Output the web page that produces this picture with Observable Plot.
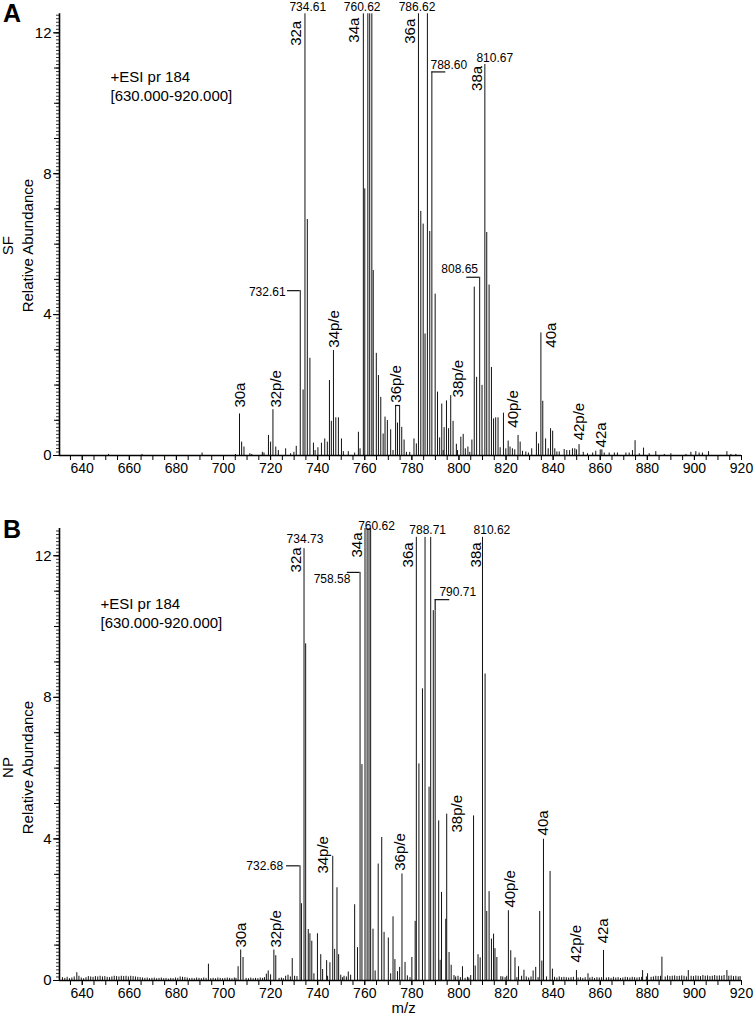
<!DOCTYPE html>
<html><head><meta charset="utf-8">
<script src="https://cdn.jsdelivr.net/npm/d3@7"></script>
<script src="https://cdn.jsdelivr.net/npm/@observablehq/plot@0.6"></script>
<style>
body{margin:0;background:#fff;font-family:"Liberation Sans",Arial,Helvetica,sans-serif;}
#wrap{position:relative;width:754px;height:1021px;overflow:hidden;background:#fff;}
.panel{position:absolute;left:0;}
.plab{position:absolute;left:3px;font-weight:bold;font-size:25px;line-height:25px;color:#000;}
</style></head><body><div id="wrap"></div>
<script>
// ---------- data ----------
const xTickLabels = [640,660,680,700,720,740,760,780,800,820,840,860,880,900,920];
const yTickLabels = [0,4,8,12];
const sampleNames = ["SF","NP"];
const headerText = "+ESI pr 184\n[630.000-920.000]";

// Panel A (SF): [m/z, relative abundance]
const sfPeaks = [
[651.2,0.03],[665.4,0.03],[690.9,0.07],[705.1,0.03],
[706.8,1.18],[707.7,0.38],[708.7,0.24],[711.2,0.05],[712.0,0.03],[716.5,0.09],[717.2,0.07],[719.1,0.57],[720.0,0.38],[721.0,1.30],[722.2,0.24],[723.3,0.14],[726.4,0.19],[728.5,0.05],[729.9,0.09],[730.9,0.26],
[732.6,4.68],[733.8,1.86],[734.6,12.54],[735.6,6.70],[736.7,2.76],[738.2,0.35],[738.9,0.14],[740.1,0.22],[741.6,0.35],[743.0,0.47],[744.1,0.38],[745.0,2.13],[745.8,0.97],[746.7,2.98],[747.7,1.07],[748.8,1.07],[750.1,0.47],[750.9,0.11],[753.0,0.11],[755.7,0.07],[757.3,0.66],[758.0,0.19],
[759.4,12.54],[760.0,7.57],[761.3,12.54],[762.1,12.54],[763.0,12.54],[763.6,5.25],[764.9,2.90],[765.8,2.27],[766.8,1.65],[767.8,0.61],[768.6,1.09],[769.6,0.99],[771.0,0.73],[772.0,0.14],[773.1,1.42],[773.9,0.92],[774.8,1.42],[775.7,0.80],[776.7,0.44],[777.7,0.09],[779.1,0.09],[780.9,0.47],[781.9,0.33],
[782.8,12.54],[783.8,6.93],[784.8,6.57],[785.6,3.45],[786.6,12.54],[787.6,6.36],[788.5,10.89],[789.9,4.58],[790.9,1.80],[791.8,0.50],[792.7,1.46],[793.3,0.14],[793.7,0.79],[794.7,1.55],[795.6,0.76],[796.5,1.70],[797.5,0.97],[798.9,0.32],[799.4,0.14],[800.8,0.52],[801.8,0.60],[802.7,0.19],[803.8,0.24],[804.6,0.09],[805.5,0.44],
[806.5,4.78],[807.5,2.22],[808.8,5.06],[809.8,1.99],[811.0,11.10],[811.8,6.33],[812.8,4.84],[813.8,2.50],[814.7,1.04],[815.6,1.07],[816.6,1.07],[817.5,0.22],[818.9,1.20],[819.9,0.19],[820.9,0.41],[821.7,0.24],[822.7,0.19],[823.7,0.16],[825.1,0.57],[826.0,0.38],[827.0,0.12],[828.4,0.10],[829.5,0.07],[830.9,0.19],[832.9,0.66],[833.8,0.33],
[834.8,3.48],[835.6,1.54],[836.8,0.47],[837.9,0.19],[838.9,0.76],[839.8,0.69],[840.7,0.19],[841.6,0.10],[842.6,0.10],[844.7,0.17],[845.8,0.14],[847.0,0.14],[848.2,0.19],[849.2,0.19],[849.9,0.16],[851.0,0.31],[852.8,0.09],[854.6,0.05],[856.8,0.07],[858.1,0.12],[860.0,0.16],[860.7,0.16],[861.7,0.07],[863.8,0.07],[866.0,0.07],[867.3,0.07],[870.9,0.07],[872.3,0.07],[873.7,0.14],[874.8,0.42],[876.6,0.05],[878.4,0.21],[880.8,0.05],[883.6,0.11],[887.2,0.03],[890.0,0.05],[896.4,0.03],[898.5,0.09],[900.6,0.11],[902.0,0.07],[903.4,0.07],[906.0,0.11],[913.8,0.11],[915.5,0.03],[917.6,0.03]
];
const sfIonLabels = [
{t:"30a",mz:707.3,v:1.36},{t:"32p/e",mz:722.4,v:1.36},{t:"32a",mz:730.9,v:11.63},{t:"34p/e",mz:747.0,v:3.06},{t:"34a",mz:755.3,v:11.72},
{t:"36p/e",mz:773.4,v:1.50},{t:"36a",mz:779.5,v:11.69},{t:"38p/e",mz:799.7,v:1.65},{t:"38a",mz:807.6,v:10.35},{t:"40p/e",mz:823.1,v:0.79},
{t:"40a",mz:839.0,v:3.06},{t:"42p/e",mz:851.0,v:0.43},{t:"42a",mz:860.3,v:0.23}
];
const sfMassLabels = [
{t:"734.61",mz:735.8,v:12.74},{t:"760.62",mz:758.9,v:12.74},{t:"786.62",mz:782.2,v:12.74},{t:"788.60",mz:795.7,v:11.09},
{t:"810.67",mz:815.2,v:11.28},{t:"732.61",mz:718.6,v:4.65},{t:"808.65",mz:800.3,v:5.28}
];
const sfLeaders = [{x1:727.2,x2:732.6,v:4.68},{x1:788.5,x2:794.4,v:10.89},{x1:803.3,x2:808.8,v:5.06},{x1:773.1,x2:774.8,v:1.42}];

// Panel B (NP): [m/z, relative abundance]
const npPeaks = [
[637.7,0.22],[693.6,0.46],[706.2,0.39],[707.3,0.86],[708.3,0.65],[718.2,0.18],[719.0,0.27],[720.0,0.16],[721.4,0.86],[722.2,0.70],[726.4,0.12],[727.4,0.15],[729.2,0.62],[730.2,0.12],
[732.5,3.24],[733.1,2.17],[734.2,12.20],[734.9,9.51],[736.0,1.44],[736.7,1.32],[737.5,1.11],[738.4,0.19],[739.9,1.32],[741.3,0.73],[742.1,0.31],[743.8,0.56],[745.2,0.50],[746.4,3.51],[747.2,0.88],[748.2,2.62],[748.9,0.73],[749.8,0.15],[751.2,0.12],[753.0,0.24],[754.0,0.15],[755.7,2.14],[756.9,0.93],
[758.0,11.53],[758.8,6.10],[760.1,12.77],[761.0,12.77],[761.8,12.77],[762.5,12.77],[763.5,1.45],[764.4,0.27],[765.7,3.29],[767.2,4.04],[768.2,1.36],[770.0,1.20],[771.0,0.19],[772.0,1.80],[772.8,0.59],[773.9,0.25],[774.8,0.37],[775.8,3.01],[777.1,0.51],[778.1,0.13],[780.0,0.65],[781.4,1.67],
[781.9,12.52],[783.0,6.12],[784.5,8.24],[785.6,12.52],[787.3,5.46],[788.0,12.52],[789.1,10.45],[789.9,10.45],[791.4,4.51],[792.0,0.57],[792.6,2.49],[794.4,1.73],[794.8,4.70],[795.8,0.79],[796.7,0.43],[797.9,0.14],[801.5,0.39],[805.0,0.14],
[806.2,4.65],[806.9,0.41],[808.1,0.73],[809.0,0.64],[810.0,12.52],[811.1,8.66],[811.8,1.95],[812.8,2.51],[813.8,1.17],[814.7,1.31],[815.3,0.90],[816.1,0.65],[817.8,0.11],[821.0,1.97],[822.0,0.84],[823.8,0.64],[825.3,0.39],[827.6,0.29],[831.5,0.27],[832.6,0.37],
[834.3,1.95],[835.2,0.55],[835.9,3.99],[838.7,3.08],[839.7,0.32],[849.9,0.28],[854.8,0.19],[861.4,0.85],[878.0,0.28],[880.1,0.19],[886.2,0.66],[897.4,0.28],[913.8,0.28]
];
const npBaseline = [
[631.6,0.08],[632.6,0.06],[633.6,0.09],[634.6,0.05],[635.6,0.07],[636.6,0.10],[638.6,0.12],[639.6,0.07],[640.6,0.05],[641.6,0.08],[642.6,0.11],[643.6,0.10],[644.6,0.09],[645.6,0.11],[646.6,0.10],[647.6,0.12],[648.6,0.10],[649.6,0.11],[650.6,0.09],[651.6,0.08],[652.6,0.10],[653.6,0.12],[654.6,0.11],[655.6,0.10],[656.6,0.12],[657.6,0.11],[658.6,0.12],[659.6,0.10],[660.6,0.12],[661.6,0.11],[662.6,0.10],[663.6,0.09],[664.6,0.08],[665.6,0.07],[666.6,0.06],[667.6,0.07],[668.6,0.05],[669.6,0.06],[670.6,0.07],[671.6,0.05],[672.6,0.06],[673.6,0.07],[674.6,0.05],[675.6,0.06],[676.6,0.04],[677.6,0.06],[678.6,0.05],[679.6,0.07],[680.6,0.06],[681.6,0.10],[682.6,0.09],[683.6,0.08],[684.6,0.07],[685.6,0.05],[686.6,0.06],[687.6,0.05],[688.6,0.07],[689.6,0.06],[690.6,0.05],[691.6,0.07],[692.6,0.06],[694.6,0.05],[695.6,0.06],[696.6,0.05],[697.6,0.07],[698.6,0.06],[699.6,0.05],[700.6,0.06],[701.6,0.07],[702.6,0.06],[703.6,0.05],[704.6,0.07],[705.3,0.06],
[709.6,0.06],[710.6,0.05],[711.6,0.07],[712.6,0.05],[713.6,0.06],[714.6,0.05],[715.6,0.07],[716.6,0.06],[717.4,0.08],[723.6,0.06],[724.6,0.07],[725.4,0.05],[728.4,0.10],[731.2,0.11],[744.2,0.12],[750.6,0.08],[752.2,0.10],[779.2,0.08],[798.6,0.10],[799.6,0.12],[800.6,0.08],[802.6,0.06],[803.6,0.09],[804.2,0.07],[818.6,0.10],[819.6,0.08],[820.3,0.12],[824.6,0.08],[826.6,0.12],[828.6,0.10],[829.6,0.07],[830.6,0.10],[833.6,0.08],[837.2,0.10],
[840.6,0.09],[841.6,0.07],[842.6,0.10],[843.6,0.08],[844.6,0.09],[845.6,0.08],[846.6,0.07],[847.6,0.08],[848.6,0.09],[850.6,0.07],[851.6,0.08],[852.6,0.06],[853.6,0.08],[855.6,0.07],[856.6,0.09],[857.6,0.06],[858.6,0.08],[859.6,0.07],[860.6,0.08],[862.6,0.07],[863.6,0.08],[864.6,0.06],[865.6,0.09],[866.6,0.07],[867.6,0.08],[868.6,0.06],[869.6,0.07],[870.6,0.09],[871.6,0.08],[872.6,0.07],[873.6,0.09],[874.6,0.08],[875.6,0.07],[876.6,0.08],[877.6,0.09],[879.6,0.10],[881.6,0.09],[882.6,0.10],[883.6,0.12],[884.6,0.11],[885.6,0.12],[887.6,0.10],[888.6,0.13],[889.6,0.11],[890.6,0.12],[891.6,0.13],[892.6,0.11],[893.6,0.12],[894.6,0.13],[895.6,0.12],[896.6,0.10],[898.6,0.12],[899.6,0.11],[900.6,0.13],[901.6,0.12],[902.6,0.11],[903.6,0.14],[904.6,0.12],[905.6,0.13],[906.6,0.11],[907.6,0.12],[908.6,0.14],[909.6,0.12],[910.6,0.13],[911.6,0.12],[912.6,0.14],[914.6,0.12],[915.6,0.13],[916.6,0.11],[917.6,0.12],[918.6,0.10],[919.4,0.11]
];
const npIonLabels = [
{t:"30a",mz:707.7,v:0.93},{t:"32p/e",mz:722.3,v:0.93},{t:"32a",mz:730.9,v:11.53},{t:"34p/e",mz:742.2,v:3.02},{t:"34a",mz:756.6,v:11.95},
{t:"36p/e",mz:774.9,v:3.10},{t:"36a",mz:778.5,v:11.67},{t:"38p/e",mz:799.3,v:4.18},{t:"38a",mz:807.4,v:11.67},{t:"40p/e",mz:821.8,v:2.06},
{t:"40a",mz:835.6,v:4.10},{t:"42p/e",mz:849.8,v:0.51},{t:"42a",mz:861.3,v:1.05}
];
const npMassLabels = [
{t:"734.73",mz:734.6,v:12.46},{t:"760.62",mz:765.0,v:12.85},{t:"788.71",mz:786.7,v:12.72},{t:"810.62",mz:814.0,v:12.72},
{t:"758.58",mz:746.1,v:11.33},{t:"790.71",mz:799.5,v:10.96},{t:"732.68",mz:717.5,v:3.22}
];
const npLeaders = [{x1:726.8,x2:732.5,v:3.24},{x1:752.6,x2:758.0,v:11.53},{x1:789.9,x2:796.1,v:10.76}];
const npRisers = [{mz:789.9,v1:10.45,v2:10.76}];

// ---------- drawing ----------
const FONT = '"Liberation Sans", Arial, Helvetica, sans-serif';
const xDomain = [630.35, 920];
const xMinor = d3.range(635, 921, 5);

function panel(cfg) {
  const yMinor = d3.range(0, cfg.yMax + 0.001, 0.1);
  const yMid = d3.range(0, cfg.yMax + 0.001, 1);
  const marks = [
    Plot.ruleX(cfg.peaks, {x: d => d[0], y1: 0, y2: d => d[1], stroke: "#111", strokeWidth: 1}),
    Plot.ruleY(cfg.leaders, {y: "v", x1: "x1", x2: "x2", stroke: "#111", strokeWidth: 1.2}),
    Plot.ruleX(cfg.risers || [], {x: "mz", y1: "v1", y2: "v2", stroke: "#111", strokeWidth: 1.2}),
    Plot.axisY(yMinor, {tickSize: 3, tickFormat: () => "", label: null, strokeWidth: 0.8}),
    Plot.axisY(yMid, {tickSize: 5, tickFormat: () => "", label: null}),
    Plot.axisY(yTickLabels, {tickSize: 6, tickPadding: 2, fontSize: 15, label: null, tickFormat: d => String(d)}),
    Plot.axisX(xMinor, {tickSize: 5, tickFormat: () => "", label: null}),
    Plot.axisX(xTickLabels, {tickSize: 5, tickPadding: 3, fontSize: 14, label: null, tickFormat: d => String(d)}),
    Plot.ruleY([0], {stroke: "#000", strokeWidth: 1.6}),
    Plot.ruleX([xDomain[0]], {y1: 0, y2: cfg.yMax, stroke: "#000", strokeWidth: 1.6}),
    Plot.text(cfg.ionLabels, {x: "mz", y: "v", text: "t", rotate: -90, textAnchor: "start", lineAnchor: "middle", fontSize: 15, fill: "#000"}),
    Plot.text(cfg.massLabels, {x: "mz", y: "v", text: "t", textAnchor: "middle", lineAnchor: "middle", fontSize: 12, fill: "#000"}),
    Plot.text([headerText], {frameAnchor: "top-left", dx: cfg.hdx, dy: cfg.hdy, textAnchor: "start", lineAnchor: "top", fontSize: 15, lineHeight: 1.25, fill: "#000"}),
    Plot.text([cfg.sample], {frameAnchor: "left", dx: -51, dy: cfg.ldy, rotate: -90, textAnchor: "middle", lineAnchor: "middle", fontSize: 15, fill: "#000"}),
    Plot.text(["Relative Abundance"], {frameAnchor: "left", dx: -31, dy: cfg.ldy, rotate: -90, textAnchor: "middle", lineAnchor: "middle", fontSize: 15, fill: "#000"})
  ];
  if (cfg.xTitle) marks.push(Plot.text([cfg.xTitle], {x: [776.5], frameAnchor: "bottom", dy: 28, textAnchor: "middle", lineAnchor: "middle", fontSize: 15, fill: "#000"}));
  return Plot.plot({
    width: 754, height: cfg.height,
    marginLeft: 59, marginRight: 13, marginTop: cfg.mt, marginBottom: cfg.mb,
    x: {domain: xDomain},
    y: {domain: [0, cfg.yMax]},
    style: {fontFamily: FONT, color: "#000", background: "transparent", overflow: "visible"},
    marks
  });
}

const wrap = document.getElementById("wrap");
const svgA = panel({peaks: sfPeaks, yMax: 12.54, height: 500, mt: 13.3, mb: 45, sample: sampleNames[0],
  ionLabels: sfIonLabels, massLabels: sfMassLabels, leaders: sfLeaders, hdx: 51, hdy: 55, ldy: 11});
svgA.classList.add("panel"); svgA.style.top = "0px";
wrap.appendChild(svgA);
const svgB = panel({peaks: npPeaks.concat(npBaseline), yMax: 12.77, height: 521, mt: 28, mb: 41, sample: sampleNames[1],
  ionLabels: npIonLabels, massLabels: npMassLabels, leaders: npLeaders, risers: npRisers, hdx: 41, hdy: 67, ldy: 13, xTitle: "m/z"});
svgB.classList.add("panel"); svgB.style.top = "500px";
wrap.appendChild(svgB);
for (const [t, top] of [["A", 1], ["B", 517]]) {
  const d = document.createElement("div");
  d.className = "plab"; d.textContent = t; d.style.top = top + "px";
  wrap.appendChild(d);
}
</script></body></html>
